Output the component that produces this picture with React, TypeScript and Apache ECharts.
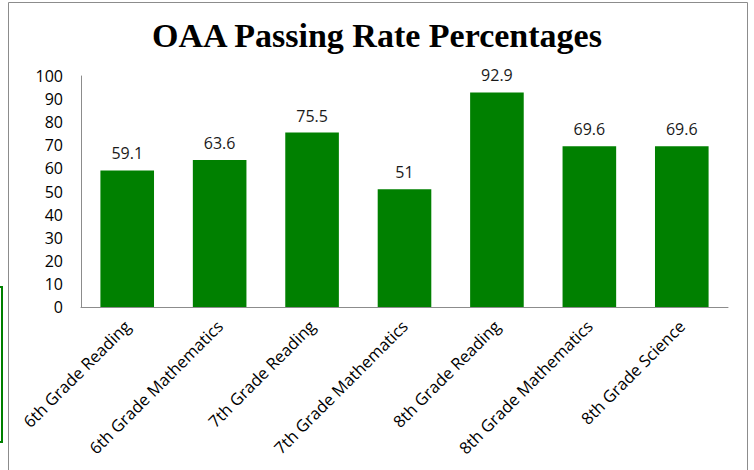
import React, { useEffect, useRef } from "react";
import * as echarts from "echarts";

const categories = [
  "6th Grade Reading",
  "6th Grade Mathematics",
  "7th Grade Reading",
  "7th Grade Mathematics",
  "8th Grade Reading",
  "8th Grade Mathematics",
  "8th Grade Science",
];
const passingRates = [59.1, 63.6, 75.5, 51, 92.9, 69.6, 69.6];
const titleText = "OAA Passing Rate Percentages";

export default function App() {
  const ref = useRef<HTMLDivElement>(null);
  useEffect(() => {
    if (!ref.current) return;
    const chart = echarts.init(ref.current, null, { renderer: "svg" });
    chart.setOption({
      animation: false,
      backgroundColor: "#ffffff",
      title: {
        text: titleText,
        left: "center",
        top: 13,
        textStyle: {
          fontFamily: "Liberation Serif",
          fontWeight: "bold",
          fontSize: 34,
          color: "#000",
        },
      },
      graphic: [
        {
          type: "rect",
          shape: { x: 8.5, y: 2.5, width: 739, height: 480 },
          style: { fill: "none", stroke: "#8c8c8c", lineWidth: 1 },
          silent: true,
        },
        {
          type: "rect",
          shape: { x: -10, y: 287, width: 12, height: 155 },
          style: { fill: "none", stroke: "#008000", lineWidth: 2 },
          silent: true,
        },
      ],
      grid: { left: 81, top: 76, right: 26, bottom: 163, containLabel: false },
      xAxis: {
        type: "category",
        data: categories,
        axisLine: { lineStyle: { color: "#8c8c8c", width: 1 } },
        axisTick: { show: false },
        axisLabel: {
          rotate: 45,
          interval: 0,
          margin: 16,
          fontFamily: "Open Sans",
          fontSize: 16.5,
          color: "#000",
        },
      },
      yAxis: {
        type: "value",
        min: 0,
        max: 100,
        interval: 10,
        splitLine: { show: false },
        axisLine: { show: true, lineStyle: { color: "#8c8c8c", width: 1 } },
        axisTick: { show: false },
        axisLabel: {
          margin: 18,
          fontFamily: "Open Sans",
          fontSize: 16,
          color: "#000",
        },
      },
      series: [
        {
          type: "bar",
          data: passingRates,
          barWidth: "58%",
          itemStyle: { color: "#008000" },
          label: {
            show: true,
            position: "top",
            distance: 9,
            fontFamily: "Open Sans",
            fontSize: 16,
            color: "#1a1a1a",
          },
        },
      ],
    });
    return () => chart.dispose();
  }, []);
  return <div ref={ref} style={{ width: 754, height: 470, position: "absolute", left: 0, top: 0 }} />;
}
